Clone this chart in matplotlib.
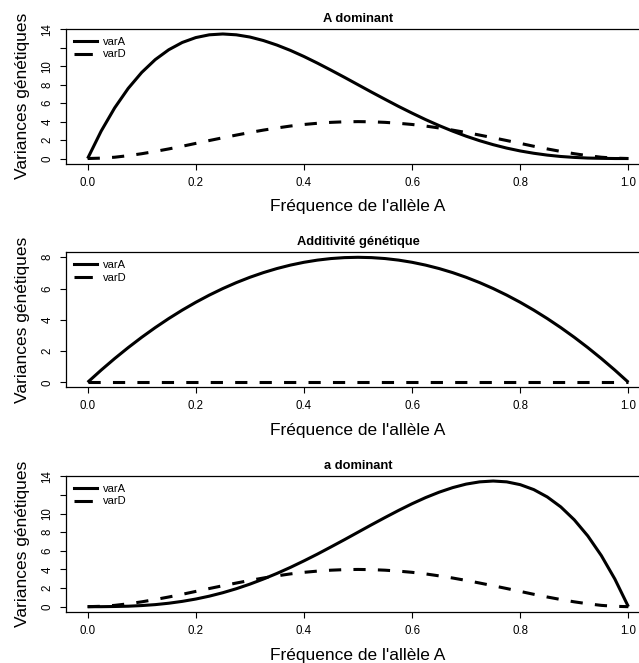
import matplotlib.pyplot as plt
from matplotlib.lines import Line2D

plt.rcParams['font.family'] = ['Liberation Sans', 'DejaVu Sans']

# frequence de l'allele A (axe x)
freq = [0.0, 0.025, 0.05, 0.075, 0.1, 0.125, 0.15, 0.175, 0.2, 0.225,
        0.25, 0.275, 0.3, 0.325, 0.35, 0.375, 0.4, 0.425, 0.45, 0.475,
        0.5, 0.525, 0.55, 0.575, 0.6, 0.625, 0.65, 0.675, 0.7, 0.725,
        0.75, 0.775, 0.8, 0.825, 0.85, 0.875, 0.9, 0.925, 0.95, 0.975, 1.0]

# A dominant
varA_Adom = [0, 2.97, 5.49, 7.60, 9.33, 10.72, 11.79, 12.58, 13.11, 13.41,
             13.50, 13.41, 13.17, 12.79, 12.30, 11.72, 11.06, 10.34, 9.58, 8.80,
             8.00, 7.20, 6.42, 5.65, 4.92, 4.22, 3.57, 2.97, 2.42, 1.93,
             1.50, 1.13, 0.82, 0.57, 0.37, 0.22, 0.12, 0.05, 0.02, 0.00, 0]
varD_Adom = [0, 0.04, 0.14, 0.31, 0.52, 0.77, 1.04, 1.33, 1.64, 1.95,
             2.25, 2.54, 2.82, 3.08, 3.31, 3.52, 3.69, 3.82, 3.92, 3.98,
             4.00, 3.98, 3.92, 3.82, 3.69, 3.52, 3.31, 3.08, 2.82, 2.54,
             2.25, 1.95, 1.64, 1.33, 1.04, 0.77, 0.52, 0.31, 0.14, 0.04, 0]

# additivite
varA_add = [0, 0.78, 1.52, 2.22, 2.88, 3.50, 4.08, 4.62, 5.12, 5.58,
            6.00, 6.38, 6.72, 7.02, 7.28, 7.50, 7.68, 7.82, 7.92, 7.98,
            8.00, 7.98, 7.92, 7.82, 7.68, 7.50, 7.28, 7.02, 6.72, 6.38,
            6.00, 5.58, 5.12, 4.62, 4.08, 3.50, 2.88, 2.22, 1.52, 0.78, 0]
varD_add = [0.0] * 41

# a dominant
varA_adom = [0, 0.00, 0.02, 0.05, 0.12, 0.22, 0.37, 0.57, 0.82, 1.13,
             1.50, 1.93, 2.42, 2.97, 3.57, 4.22, 4.92, 5.65, 6.42, 7.20,
             8.00, 8.80, 9.58, 10.34, 11.06, 11.72, 12.30, 12.79, 13.17, 13.41,
             13.50, 13.41, 13.11, 12.58, 11.79, 10.72, 9.33, 7.60, 5.49, 2.97, 0]
varD_adom = [0, 0.04, 0.14, 0.31, 0.52, 0.77, 1.04, 1.33, 1.64, 1.95,
             2.25, 2.54, 2.82, 3.08, 3.31, 3.52, 3.69, 3.82, 3.92, 3.98,
             4.00, 3.98, 3.92, 3.82, 3.69, 3.52, 3.31, 3.08, 2.82, 2.54,
             2.25, 1.95, 1.64, 1.33, 1.04, 0.77, 0.52, 0.31, 0.14, 0.04, 0]

titles = ['A dominant', 'Additivité génétique', 'a dominant']
series = [(varA_Adom, varD_Adom), (varA_add, varD_add), (varA_adom, varD_adom)]
yticks = [[0, 2, 4, 6, 8, 10, 12, 14], [0, 2, 4, 6, 8], [0, 2, 4, 6, 8, 10, 12, 14]]
ytick_labels = [['0', '2', '4', '6', '8', '10', '', '14'],
                ['0', '2', '4', '6', '8'],
                ['0', '2', '4', '6', '8', '10', '', '14']]

W, H = 639, 663
# (top, bottom) of each plot box in pixels
boxes = [(29, 163.5), (252.3, 387.3), (476, 611.7)]
left_px, right_px = 66, 650

fig = plt.figure(figsize=(W / 100, H / 100), dpi=100)
lw = 2.2

for (top, bot), title, (va, vd), yt, ytl in zip(boxes, titles, series, yticks, ytick_labels):
    h = bot - top
    ax = fig.add_axes([left_px / W, 1 - bot / H, (right_px - left_px) / W, h / H])
    ax.plot(freq, va, color='black', lw=lw, solid_capstyle='butt', solid_joinstyle='round')
    ax.plot(freq, vd, color='black', lw=lw, dashes=(4, 4))

    ymax = max(max(va), max(vd))
    ax.set_xlim(-0.04, 1.04)
    ax.set_ylim(-0.04 * ymax, 1.04 * ymax)
    ax.set_xticks([0, 0.2, 0.4, 0.6, 0.8, 1.0])
    ax.set_xticklabels(['0.0', '0.2', '0.4', '0.6', '0.8', '1.0'])
    ax.set_yticks(yt)
    ax.set_yticklabels(ytl)

    ax.spines['right'].set_visible(False)
    for s in ['top', 'left', 'bottom']:
        ax.spines[s].set_linewidth(0.9)

    ax.tick_params(direction='out', length=4.5, width=0.8, labelsize=8.3, colors='black')
    ax.tick_params(axis='x', pad=5)
    ax.tick_params(axis='y', pad=4.5, labelrotation=90)
    for lab in ax.get_yticklabels():
        lab.set_va('center')

    ax.set_title(title, fontsize=9.3, fontweight='bold', pad=5.3)
    ax.set_xlabel("Fréquence de l'allèle A", fontsize=12.5)
    ax.xaxis.set_label_coords(0.5, -0.264)
    ax.set_ylabel('Variances génétiques', fontsize=12.5)
    ax.yaxis.set_label_coords(-0.062, 0.5)

    handles = [Line2D([], [], color='black', lw=lw),
               Line2D([], [], color='black', lw=lw, dashes=(6, 4))]
    ax.legend(handles, ['varA', 'varD'], loc='upper left', frameon=False,
              bbox_to_anchor=(8 / 584, 1 - 8 / h), borderpad=0,
              borderaxespad=0, handlelength=2.1, handletextpad=0.55,
              labelspacing=0.22, fontsize=8)

fig.savefig('out.png', dpi=100)
